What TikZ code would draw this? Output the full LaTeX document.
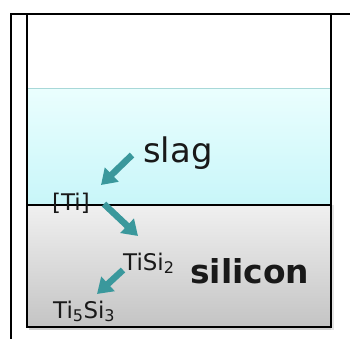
\documentclass[tikz,border=0pt]{standalone}
\usepackage{fontspec}
\setmainfont{DejaVu Sans}
\usetikzlibrary{arrows.meta}
\definecolor{teal1}{RGB}{58,152,156}
\definecolor{slagtop}{RGB}{234,254,254}
\definecolor{slagbot}{RGB}{200,246,249}
\definecolor{slagedge}{RGB}{168,216,216}
\definecolor{sitop}{RGB}{240,240,240}
\definecolor{sibot}{RGB}{196,196,196}
\definecolor{txt}{RGB}{25,25,25}
\begin{document}
\begin{tikzpicture}[x=1bp,y=1bp,
  flowarrow/.style={draw=teal1,line width=6.5bp,-{Triangle[length=15bp,width=19bp]}},
  wall/.style={line width=2.8bp,black},
  lbl/.style={inner sep=0pt,anchor=base west,text=txt,font=\fontsize{23}{26}\selectfont}]
\useasboundingbox (0,0) rectangle (350,339);
% shadow
\fill[black!18] (29,9.5) rectangle (333.5,12);
\fill[black!10] (331,9.5) rectangle (334,134);
% slag layer
\shade[top color=slagtop,bottom color=slagbot] (27,134) rectangle (331,250);
\draw[slagedge,line width=1bp] (27,250) -- (331,250);
% silicon layer
\shade[top color=sitop,bottom color=sibot] (27,12) rectangle (331,134);
\draw[black,line width=1.6bp] (27,134) -- (331,134);
% container
\draw[wall] (27,325) -- (27,12) -- (331,12) -- (331,325);
% outer frame
\draw[line width=2.2bp,black] (11,0) -- (11,325) -- (350,325);
% labels
\node[inner sep=0pt,anchor=base west,text=txt,font=\fontsize{34}{38}\selectfont] (slag) at (143,177) {slag};
\node[inner sep=0pt,anchor=base west,text=txt,font=\fontsize{33}{36}\selectfont\bfseries] (silicon) at (190,56) {silicon};
\node[lbl] (ti) at (52,129) {[Ti]};
\node[lbl] (tisi2) at (123,69) {TiSi\textsubscript{2}};
\node[lbl] (ti5si3) at (53,21) {Ti\textsubscript{5}Si\textsubscript{3}};
% arrows
\coordinate (a1s) at (132,184);
\coordinate (a1e) at (101,154);
\coordinate (a2s) at (104,135);
\coordinate (a2e) at (138,103);
\coordinate (a3s) at (123,69);
\coordinate (a3e) at (97,45);
\draw[flowarrow] (a1s) -- (a1e);
\draw[flowarrow] (a2s) -- (a2e);
\draw[flowarrow] (a3s) -- (a3e);
\end{tikzpicture}
\end{document}
